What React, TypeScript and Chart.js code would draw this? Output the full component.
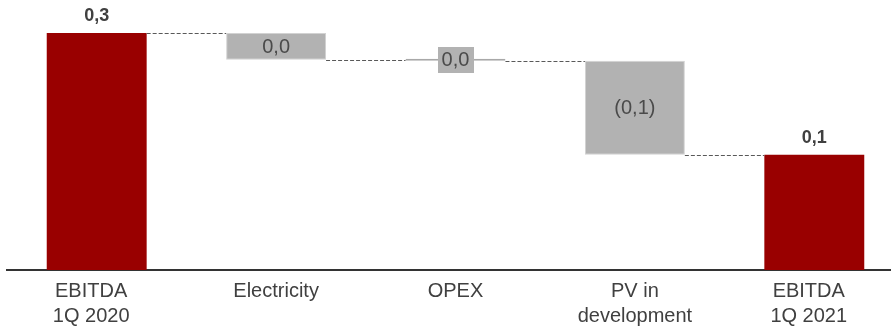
import React, { useEffect, useRef } from "react";
import { Chart, registerables } from "chart.js";

Chart.register(...registerables);

// EBITDA bridge, 1Q 2020 -> 1Q 2021 (EUR m)
const categories: (string | string[])[] = [
  ["EBITDA  ", "1Q 2020  "],
  "Electricity",
  "OPEX",
  ["PV in", "development"],
  ["EBITDA  ", "1Q 2021  "],
];
const openingEbitda = 0.3;
const bridgeDeltas = [-0.034, -0.001, -0.119];
const closingEbitda = 0.146;

const TOTAL_COLOR = "#990000";
const DELTA_COLOR = "#b2b2b2";
const FONT = "'Liberation Sans', Arial, sans-serif";

// Floating ranges for each bar plus the running level each bar ends on
const ranges: [number, number][] = [[0, openingEbitda]];
const levels: number[] = [openingEbitda];
let running = openingEbitda;
for (const d of bridgeDeltas) {
  const next = running + d;
  ranges.push([Math.min(running, next), Math.max(running, next)]);
  running = next;
  levels.push(running);
}
ranges.push([0, closingEbitda]);
levels.push(closingEbitda);

const barValues = [openingEbitda, ...bridgeDeltas, closingEbitda];
const isTotal = barValues.map((_, i) => i === 0 || i === barValues.length - 1);
const isSliver = ranges.map(([a, b]) => b - a < 0.005);

function formatValue(v: number): string {
  const r = Math.round(v * 10) / 10;
  const s = Math.abs(r).toFixed(1).replace(".", ",");
  return r < 0 ? `(${s})` : s;
}

const bridgePlugin = {
  id: "bridgeDecor",
  afterDatasetsDraw(chart: any) {
    const ctx: CanvasRenderingContext2D = chart.ctx;
    const meta = chart.getDatasetMeta(0);
    const yScale = chart.scales.y;
    const bars = meta.data.map((el: any) => el.getProps(["x", "y", "base", "width"], true));

    // dashed connectors between consecutive bars
    ctx.save();
    ctx.strokeStyle = "#595959";
    ctx.lineWidth = 1;
    ctx.setLineDash([4, 2]);
    for (let i = 0; i < bars.length - 1; i++) {
      const a = bars[i];
      const b = bars[i + 1];
      const yy = Math.round(yScale.getPixelForValue(levels[i])) + 0.5;
      ctx.beginPath();
      ctx.moveTo(a.x + a.width / 2, yy);
      ctx.lineTo(b.x - b.width / 2, yy);
      ctx.stroke();
    }
    ctx.restore();

    // value labels
    ctx.save();
    ctx.textAlign = "center";
    ctx.textBaseline = "middle";
    bars.forEach((b: any, i: number) => {
      const text = formatValue(barValues[i]);
      if (isTotal[i]) {
        ctx.font = `bold 18px ${FONT}`;
        ctx.fillStyle = "#404040";
        ctx.fillText(text, b.x, Math.min(b.y, b.base) - 17);
      } else {
        ctx.font = `20px ${FONT}`;
        const cy = (b.y + b.base) / 2;
        const h = Math.abs(b.base - b.y);
        if (h < 24) {
          const w = ctx.measureText(text).width + 8;
          ctx.fillStyle = DELTA_COLOR;
          ctx.fillRect(Math.round(b.x - w / 2), Math.round(cy - 13), Math.round(w), 26);
        }
        ctx.fillStyle = "#4a4a4a";
        ctx.fillText(text, b.x, cy + 1);
      }
    });
    ctx.restore();
  },
};

export default function App() {
  const canvasRef = useRef<HTMLCanvasElement | null>(null);

  useEffect(() => {
    if (!canvasRef.current) return;
    const chart = new Chart(canvasRef.current, {
      type: "bar",
      data: {
        labels: categories,
        datasets: [
          {
            data: ranges as any,
            backgroundColor: isTotal.map((t) => (t ? TOTAL_COLOR : DELTA_COLOR)),
            borderColor: isTotal.map((t, i) =>
              t ? TOTAL_COLOR : isSliver[i] ? "#a8a8a8" : "#d2d2d2"
            ),
            borderWidth: isTotal.map((t) => (t ? 0 : 1)),
            borderSkipped: false,
            minBarLength: 2,
            categoryPercentage: 1,
            barPercentage: 0.557,
          },
        ],
      },
      options: {
        responsive: false,
        animation: false,
        devicePixelRatio: 1,
        layout: { padding: { top: 33, left: 7, right: 1, bottom: 0 } },
        plugins: {
          legend: { display: false },
          tooltip: { enabled: false },
        },
        scales: {
          x: {
            type: "category",
            grid: { display: false, drawTicks: false },
            border: { display: true, color: "#333333", width: 2 },
            ticks: {
              color: "#404040",
              font: { family: FONT, size: 20, lineHeight: 1.25 },
              padding: 9,
              maxRotation: 0,
              autoSkip: false,
            },
            afterFit: (scale: any) => {
              scale.height = 58;
            },
          },
          y: {
            display: false,
            min: 0,
            max: openingEbitda,
          },
        },
      },
      plugins: [bridgePlugin],
    });
    return () => chart.destroy();
  }, []);

  return (
    <div
      style={{
        position: "fixed",
        left: 0,
        top: 0,
        width: 891,
        height: 328,
        overflow: "hidden",
        background: "#ffffff",
      }}
    >
      <canvas ref={canvasRef} width={905} height={328} style={{ display: "block" }} />
    </div>
  );
}
